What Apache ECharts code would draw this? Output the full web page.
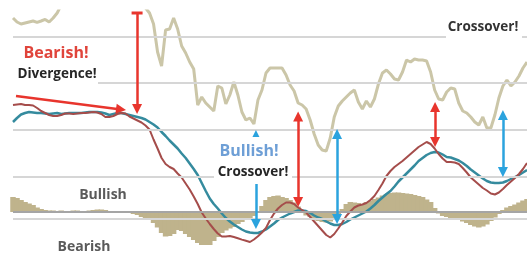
<!DOCTYPE html>
<html>
<head>
<meta charset="utf-8">
<script src="https://cdn.jsdelivr.net/npm/echarts@6/dist/echarts.min.js"></script>
<style>html,body{margin:0;padding:0;background:#fff;}#c{width:527px;height:256px;}</style>
</head>
<body>
<div id="c"></div>
<script>
// ---- data (trading days, arbitrary units) ----
const days = Array.from({length: 129}, (_, i) => i);
const price = [
119, 117, 116, 116.5, 117, 117.5, 116.8, 117.5, 118.3, 117,
119, 121.5, 125.5, 128, 130, 129, 132, 134, 133, 135.5,
134, 137, 135, 133, 136, 134, 132, 133, 130.5, 132,
129.5, 128, 126, 124, 121.5, 116, 102, 95, 113, 113.5,
119, 113.5, 105, 101.5, 97, 93.5, 75.5, 79.5, 76.5, 74.5,
72.5, 85, 84, 76, 80.5, 87, 80.5, 72, 68, 69,
66, 78, 83, 91.5, 94, 94, 94, 94, 90.5, 85.5,
82.5, 76.5, 75.5, 73.5, 68, 61, 55.5, 53, 52.5, 59,
69.5, 75, 77.5, 79.5, 81.5, 83, 77, 73.5, 77.5, 74.5,
78.5, 86, 91.5, 93, 91, 88.5, 88, 92, 98, 97,
98.5, 98, 98, 97.5, 92, 83, 78.5, 78, 82, 84,
83.5, 76.5, 72.5, 71.5, 69.5, 67, 65.5, 69.5, 64, 64,
70.5, 79, 85, 88, 85, 87, 90, 94, 97
];
const macd = [
10.7, 10.75, 10.8, 10.7, 10.7, 10.65, 10.4, 10.1, 9.9, 9.7,
9.6, 9.6, 9.7, 9.85, 9.85, 9.8, 9.85, 9.9, 9.9, 9.95,
10.0, 9.95, 9.8, 9.5, 9.5, 9.6, 9.8, 9.9, 9.85, 9.55,
9.35, 9.15, 8.95, 8.65, 8.25, 7.25, 6.35, 5.4, 4.8, 4.5,
4.3, 3.85, 3.45, 2.85, 2.25, 1.55, 0.8, -0.05, -0.65, -1.2,
-1.7, -2.15, -2.45, -2.45, -2.4, -2.5, -2.63, -2.76, -2.88, -3.0,
-2.75, -2.42, -2.05, -1.6, -0.8, -0.15, 0.35, 0.7, 0.95, 0.95,
0.8, 0.45, 0.2, -0.05, -0.5, -0.95, -1.4, -1.85, -2.3, -2.55,
-2.2, -1.65, -1.05, -0.4, 0.05, 0.45, 0.65, 0.75, 0.9, 1.2,
1.6, 2.2, 2.85, 3.6, 4.1, 4.5, 4.8, 5.1, 5.45, 5.8,
6.15, 6.5, 6.75, 7.0, 6.8, 6.35, 5.8, 5.35, 5.0, 5.0,
4.95, 4.8, 4.4, 3.95, 3.45, 3.1, 2.75, 2.4, 2.15, 1.85,
1.75, 1.95, 2.3, 2.7, 3.05, 3.4, 3.8, 4.3, 4.9
];
const signal = [
9.0, 9.4, 9.75, 9.9, 10.0, 9.95, 9.9, 9.9, 9.85, 9.8,
9.85, 9.9, 9.8, 9.85, 9.9, 9.9, 9.9, 9.9, 9.95, 10.0,
10.0, 10.0, 9.95, 9.85, 9.7, 9.8, 9.9, 9.9, 9.8, 9.7,
9.6, 9.5, 9.4, 9.25, 9.0, 8.75, 8.45, 8.0, 7.6, 7.15,
6.75, 6.35, 5.85, 5.4, 4.85, 4.3, 3.7, 2.9, 2.1, 1.35,
0.8, 0.35, -0.15, -0.6, -0.95, -1.25, -1.5, -1.75, -1.95, -2.05,
-2.1, -2.1, -1.95, -1.75, -1.45, -1.15, -0.8, -0.55, -0.35, -0.15,
0.0, 0.15, 0.15, 0.1, -0.1, -0.35, -0.55, -0.7, -0.95, -1.15,
-1.3, -1.3, -1.2, -1.0, -0.75, -0.55, -0.35, -0.15, 0.05, 0.35,
0.7, 1.1, 1.45, 1.8, 2.1, 2.55, 3.05, 3.45, 3.85, 4.25,
4.65, 5.1, 5.4, 5.7, 5.9, 6.0, 5.95, 5.75, 5.5, 5.45,
5.3, 5.15, 4.9, 4.6, 4.25, 3.95, 3.65, 3.35, 3.1, 2.95,
2.9, 2.9, 2.95, 3.1, 3.3, 3.5, 3.7, 3.95, 4.2
];
const hist = [
1.5, 1.4, 1.2, 1.0, 0.85, 0.7, 0.45, 0.3, 0.2, 0.15,
0.15, 0.1, 0.15, 0.1, 0.1, 0.15, 0.15, 0.1, 0.1, 0.15,
0.2, 0.25, 0.25, 0.2, 0.1, 0.05, 0.05, -0.05, -0.1, -0.1,
-0.2, -0.3, -0.5, -0.65, -0.8, -1.1, -1.55, -2.1, -2.45, -2.4,
-2.2, -1.8, -1.9, -2.2, -2.5, -2.8, -3.1, -3.3, -3.3, -3.3,
-2.9, -2.5, -2.1, -1.85, -1.65, -1.5, -1.2, -1.0, -0.8, -0.65,
-0.4, -0.1, 0.6, 1.2, 1.5, 1.6, 1.65, 1.5, 1.4, 1.2,
0.95, 0.55, 0.1, -0.35, -0.5, -0.75, -0.9, -1.0, -1.05, -0.95,
-0.75, -0.45, 0.3, 0.8, 1.0, 0.95, 0.9, 0.8, 1.0, 1.1,
1.3, 1.45, 1.65, 1.8, 1.9, 1.95, 1.95, 1.9, 1.85, 1.8,
1.7, 1.6, 1.5, 1.25, 1.0, 0.4, -0.15, -0.4, -0.5, -0.6,
-0.7, -0.8, -0.95, -1.1, -1.3, -1.45, -1.55, -1.45, -1.25, -0.9,
-0.55, -0.2, 0.2, 0.45, 0.6, 0.75, 0.95, 1.15, 1.3
];
// reference levels (indicator-axis units)
const gridLevels = [17.5, 12.9, 8.2, 3.5, -0.65];
const zeroLevel = 0;
// annotation arrows: [day1, level1, day2, level2, colour, startSymbol, endSymbol]
const arrows = [
  [0.75, 11.6, 26.9, 10.26, 'red', 'none', 'triangle'],
  [30.9, 19.9, 30.9, 10.3, 'red', 'rect', 'triangle'],
  [71.0, 9.55, 71.0, 1.0, 'red', 'triangle', 'triangle'],
  [80.7, 7.8, 80.7, -0.7, 'blue', 'triangle', 'triangle'],
  [60.5, 7.7, 60.5, -1.2, 'blue', 'triangle', 'triangle'],
  [105.1, 10.5, 105.1, 7.0, 'red', 'triangle', 'triangle'],
  [122.0, 9.7, 122.0, 4.0, 'blue', 'triangle', 'triangle']
];

const RED = '#e8352d', BLUE = '#2ba3de';
const pair = arr => days.map((d, i) => [d, arr[i]]);
const symSize = s => s === 'rect' ? [11, 3] : (s === 'triangle' ? [10, 10] : 0);

const chart = echarts.init(document.getElementById('c'));
chart.setOption({
  animation: false,
  backgroundColor: '#ffffff',
  grid: {left: 13, right: 0, top: 11, bottom: 0},
  xAxis: {type: 'value', min: 0, max: 128, show: false},
  yAxis: [
    {type: 'value', min: 0, max: 122.5, show: false},
    {type: 'value', min: -4.4, max: 20.1, show: false}
  ],
  series: [
    {
      name: 'Grid', type: 'line', yAxisIndex: 1, data: [], z: 0,
      markLine: {
        silent: true, symbol: 'none', animation: false,
        label: {show: false},
        lineStyle: {color: '#d6d6d6', width: 2, type: 'solid'},
        data: gridLevels.map(v => ({yAxis: v})).concat([
          {yAxis: zeroLevel, lineStyle: {color: '#a5a5a5', width: 2, type: 'solid'}}
        ])
      }
    },
    {
      name: 'Histogram', type: 'bar', yAxisIndex: 1, z: 1,
      data: pair(hist), barWidth: 5.5, barMinHeight: 0,
      large: false,
      itemStyle: {color: '#bfb38c', borderWidth: 0}
    },
    {
      name: 'Price', type: 'line', yAxisIndex: 0, z: 2,
      data: pair(price), showSymbol: false, smooth: false,
      lineStyle: {color: '#cbc6a8', width: 3}
    },
    {
      name: 'Signal', type: 'line', yAxisIndex: 1, z: 3,
      data: pair(signal), showSymbol: false,
      lineStyle: {color: '#358b9e', width: 2.5}
    },
    {
      name: 'MACD', type: 'line', yAxisIndex: 1, z: 4,
      data: pair(macd), showSymbol: false,
      lineStyle: {color: '#a54d4b', width: 2},
      markLine: {
        silent: true, animation: false, label: {show: false},
        data: arrows.map(a => [
          {coord: [a[0], a[1]], symbol: a[5], symbolSize: symSize(a[5]),
           lineStyle: {color: a[4] === 'red' ? RED : BLUE, width: 2.5, type: 'solid'},
           itemStyle: {color: a[4] === 'red' ? RED : BLUE}},
          {coord: [a[2], a[3]], symbol: a[6], symbolSize: symSize(a[6])}
        ])
      }
    }
  ],
  graphic: [
    {type: 'rect', z: 100, shape: {x: 13, y: 41, width: 85, height: 47}, style: {fill: '#ffffff'}},
    {type: 'rect', z: 100, shape: {x: 214, y: 137, width: 78, height: 47}, style: {fill: '#ffffff'}},
    {type: 'rect', z: 100, shape: {x: 446, y: 14, width: 76, height: 27}, style: {fill: '#ffffff'}},
    {type: 'text', z: 101, x: 56, y: 53, style: {text: 'Bearish!', fill: '#e0443b', font: 'bold 16px "Open Sans"', align: 'center', verticalAlign: 'middle'}},
    {type: 'text', z: 101, x: 57, y: 74, style: {text: 'Divergence!', fill: '#262626', font: 'bold 13.5px "Open Sans"', align: 'center', verticalAlign: 'middle'}},
    {type: 'text', z: 101, x: 249, y: 151, style: {text: 'Bullish!', fill: '#6e9fd6', font: 'bold 16px "Open Sans"', align: 'center', verticalAlign: 'middle'}},
    {type: 'text', z: 101, x: 253, y: 172, style: {text: 'Crossover!', fill: '#262626', font: 'bold 13.5px "Open Sans"', align: 'center', verticalAlign: 'middle'}},
    {type: 'text', z: 101, x: 483, y: 27, style: {text: 'Crossover!', fill: '#333333', font: 'bold 13.5px "Open Sans"', align: 'center', verticalAlign: 'middle'}},
    {type: 'text', z: 101, x: 103, y: 195, style: {text: 'Bullish', fill: '#5a5a5a', font: 'bold 14px "Open Sans"', align: 'center', verticalAlign: 'middle'}},
    {type: 'text', z: 101, x: 84, y: 247, style: {text: 'Bearish', fill: '#5a5a5a', font: 'bold 14px "Open Sans"', align: 'center', verticalAlign: 'middle'}}
  ]
});
</script>
</body>
</html>
